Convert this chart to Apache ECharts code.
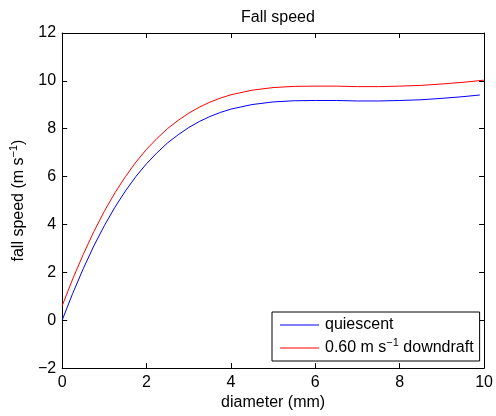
<!DOCTYPE html>
<html>
<head>
<meta charset="utf-8">
<script src="https://cdn.jsdelivr.net/npm/echarts@6/dist/echarts.min.js"></script>
<style>
  html, body { margin: 0; padding: 0; background: #fff; }
  #chart { width: 496px; height: 416px; }
</style>
</head>
<body>
<div id="chart"></div>
<script>
// Raindrop fall speed versus diameter
const diameterQuiescent = [0, 0.25, 0.5, 0.75, 1, 1.25, 1.5, 1.75, 2, 2.25, 2.5, 2.75, 3, 3.25, 3.5, 3.75, 4, 4.5, 5, 5.5, 6, 6.5, 7, 7.5, 8, 8.5, 9, 9.5, 9.9];
const speedQuiescent = [0.00, 1.12, 2.15, 3.10, 3.95, 4.72, 5.40, 6.01, 6.54, 7.00, 7.41, 7.75, 8.05, 8.30, 8.51, 8.68, 8.82, 9.01, 9.12, 9.17, 9.18, 9.18, 9.16, 9.16, 9.18, 9.21, 9.27, 9.34, 9.41];

const diameterDowndraft = [0, 0.25, 0.5, 0.75, 1, 1.25, 1.5, 1.75, 2, 2.25, 2.5, 2.75, 3, 3.25, 3.5, 3.75, 4, 4.5, 5, 5.5, 6, 6.5, 7, 7.5, 8, 8.5, 9, 9.5, 10];
const speedDowndraft = [0.60, 1.72, 2.75, 3.70, 4.55, 5.32, 6.00, 6.61, 7.14, 7.60, 8.01, 8.35, 8.65, 8.90, 9.11, 9.28, 9.42, 9.61, 9.72, 9.77, 9.78, 9.78, 9.76, 9.76, 9.78, 9.81, 9.87, 9.94, 10.03];

const seriesNames = ['quiescent', 'downdraft'];
const legendLabels = {
  quiescent: 'quiescent',
  downdraft: '0.60 m s{sup|\u22121} downdraft'
};

const FONT = '"Liberation Sans", Arial, Helvetica, sans-serif';
const FS = 16;
const supStyle = { fontSize: 11, fontFamily: FONT, color: '#000', padding: [0, 0, 11, 0] };

function pairs(xs, ys) {
  return xs.map((x, i) => [x, ys[i]]);
}
const minus = v => String(v).replace('-', '\u2212');

const tickStyle = { show: true, inside: true, length: 5, lineStyle: { color: '#000', width: 1 } };
const lineStyleAxis = { show: true, onZero: false, lineStyle: { color: '#000', width: 1 } };

const chart = echarts.init(document.getElementById('chart'), null, { renderer: 'canvas' });
chart.setOption({
  animation: false,
  backgroundColor: '#fff',
  title: {
    text: 'Fall speed',
    left: 273,
    top: 5,
    textAlign: 'center',
    textStyle: { fontFamily: FONT, fontSize: FS, fontWeight: 'normal', color: '#000' }
  },
  grid: { left: 58, right: 8, top: 33, bottom: 43, containLabel: false },
  legend: {
    data: seriesNames,
    orient: 'vertical',
    left: 272,
    top: 312,
    padding: [5, 6, 5, 8],
    itemGap: 4,
    icon: 'rect',
    itemWidth: 39,
    itemHeight: 1,
    backgroundColor: '#fff',
    borderColor: '#000',
    borderWidth: 1,
    borderRadius: 0,
    formatter: name => legendLabels[name],
    textStyle: {
      fontFamily: FONT, fontSize: FS, color: '#000', padding: [0, 0, 0, 1],
      rich: { sup: supStyle }
    }
  },
  xAxis: [
    {
      type: 'value', min: 0, max: 10, interval: 2, position: 'bottom',
      name: 'diameter (mm)', nameLocation: 'middle', nameGap: 22,
      nameTextStyle: { fontFamily: FONT, fontSize: FS, color: '#000' },
      axisLine: lineStyleAxis, axisTick: tickStyle,
      axisLabel: { fontFamily: FONT, fontSize: FS, color: '#000', margin: 6, formatter: minus },
      splitLine: { show: false }
    },
    {
      type: 'value', min: 0, max: 10, interval: 2, position: 'top',
      axisLine: lineStyleAxis, axisTick: tickStyle,
      axisLabel: { show: false }, splitLine: { show: false }
    }
  ],
  yAxis: [
    {
      type: 'value', min: -2, max: 12, interval: 2, position: 'left',
      name: 'fall speed (m s{sup|\u22121})', nameLocation: 'middle', nameGap: 28, nameRotate: 90,
      nameTextStyle: { fontFamily: FONT, fontSize: FS, color: '#000', rich: { sup: supStyle } },
      axisLine: lineStyleAxis, axisTick: tickStyle,
      axisLabel: { fontFamily: FONT, fontSize: FS, color: '#000', margin: 6, formatter: minus },
      splitLine: { show: false }
    },
    {
      type: 'value', min: -2, max: 12, interval: 2, position: 'right',
      axisLine: lineStyleAxis, axisTick: tickStyle,
      axisLabel: { show: false }, splitLine: { show: false }
    }
  ],
  series: [
    {
      name: seriesNames[0], type: 'line', xAxisIndex: 0, yAxisIndex: 0,
      data: pairs(diameterQuiescent, speedQuiescent),
      symbol: 'none', smooth: false,
      lineStyle: { color: '#0000ff', width: 1 }, itemStyle: { color: '#0000ff' }
    },
    {
      name: seriesNames[1], type: 'line', xAxisIndex: 0, yAxisIndex: 0,
      data: pairs(diameterDowndraft, speedDowndraft),
      symbol: 'none', smooth: false,
      lineStyle: { color: '#ff0000', width: 1 }, itemStyle: { color: '#ff0000' }
    }
  ]
});
</script>
</body>
</html>
